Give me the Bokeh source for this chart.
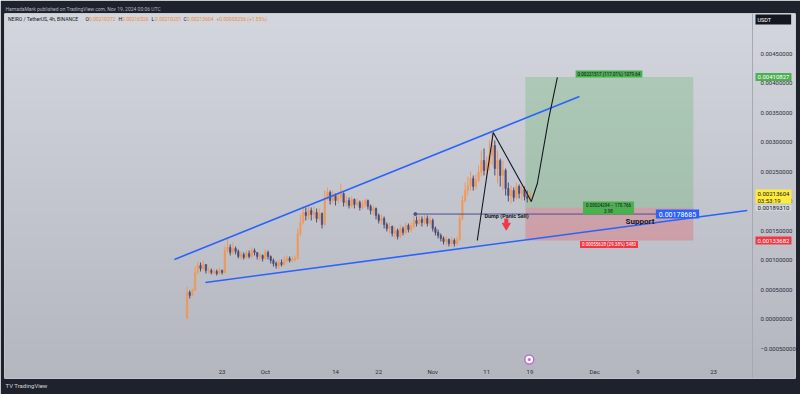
import numpy as np
import pandas as pd
from bokeh.plotting import figure
from bokeh.models import ColumnDataSource, FixedTicker, Label, Range1d, Span, Title
from bokeh.embed import file_html
from bokeh.resources import INLINE

# ---------------- data ----------------
candle_start = "2024-09-16 12:00"   # 12h candles
first_open = 0.000017
close = [0.000458, 0.000407, 0.000492, 0.000797, 0.000915, 0.000864, 0.000932, 0.000831, 0.000831, 0.000797,
         0.000814, 0.000780, 0.000831, 0.000797, 0.001169, 0.001220, 0.001136, 0.001203, 0.001153, 0.001068,
         0.001102, 0.001051, 0.001119, 0.001068, 0.001169, 0.001136, 0.001068, 0.001085, 0.001034, 0.001136,
         0.001068, 0.001000, 0.000949, 0.000915, 0.000966, 0.000932, 0.001000, 0.001034, 0.001000, 0.001017,
         0.001034, 0.001458, 0.001644, 0.001814, 0.001763, 0.001847, 0.001780, 0.001814, 0.001712, 0.001797,
         0.001610, 0.002051, 0.002153, 0.002017, 0.002102, 0.002017, 0.002068, 0.002136, 0.001983, 0.002017,
         0.001932, 0.002034, 0.001949, 0.001983, 0.001898, 0.001949, 0.002017, 0.001915, 0.001847, 0.001881,
         0.001763, 0.001678, 0.001712, 0.001610, 0.001542, 0.001576, 0.001458, 0.001508, 0.001407, 0.001542,
         0.001475, 0.001593, 0.001525, 0.001576, 0.001678, 0.001627, 0.001695, 0.001644, 0.001712, 0.001627,
         0.001678, 0.001542, 0.001475, 0.001424, 0.001373, 0.001322, 0.001356, 0.001288, 0.001339, 0.001288,
         0.001356, 0.001712, 0.002017, 0.002186, 0.002271, 0.002390, 0.002254, 0.002356, 0.002492, 0.002695,
         0.002525, 0.002644, 0.002780, 0.002949, 0.002559, 0.002695, 0.002441, 0.002525, 0.002220, 0.002102,
         0.002186, 0.002068, 0.002254, 0.002136, 0.002203, 0.002085, 0.002051, 0.002136]
high = [0.000559, 0.000492, 0.000525, 0.000898, 0.000983, 0.000966, 0.001000, 0.000915, 0.000881, 0.000864,
        0.000864, 0.000847, 0.000881, 0.000847, 0.001237, 0.001390, 0.001271, 0.001305, 0.001237, 0.001186,
        0.001153, 0.001136, 0.001169, 0.001169, 0.001220, 0.001203, 0.001136, 0.001136, 0.001102, 0.001186,
        0.001169, 0.001085, 0.001034, 0.000983, 0.001017, 0.001017, 0.001068, 0.001085, 0.001068, 0.001068,
        0.001085, 0.001542, 0.001780, 0.001915, 0.001898, 0.001932, 0.001898, 0.001915, 0.001881, 0.001881,
        0.001814, 0.002186, 0.002237, 0.002186, 0.002186, 0.002136, 0.002169, 0.002305, 0.002153, 0.002102,
        0.002068, 0.002085, 0.002051, 0.002051, 0.002017, 0.002017, 0.002051, 0.002034, 0.001949, 0.001932,
        0.001898, 0.001797, 0.001780, 0.001746, 0.001644, 0.001644, 0.001593, 0.001576, 0.001542, 0.001610,
        0.001576, 0.001644, 0.001627, 0.001644, 0.001763, 0.001746, 0.001763, 0.001746, 0.001780, 0.001763,
        0.001746, 0.001712, 0.001576, 0.001525, 0.001458, 0.001407, 0.001407, 0.001373, 0.001390, 0.001373,
        0.001407, 0.001780, 0.002102, 0.002322, 0.002424, 0.002508, 0.002441, 0.002458, 0.002610, 0.002864,
        0.002898, 0.002763, 0.003034, 0.003169, 0.003034, 0.002864, 0.002729, 0.002695, 0.002559, 0.002322,
        0.002271, 0.002237, 0.002322, 0.002288, 0.002271, 0.002254, 0.002186, 0.002186]
low = [0.000010, 0.000356, 0.000390, 0.000492, 0.000763, 0.000814, 0.000831, 0.000780, 0.000780, 0.000763,
       0.000763, 0.000746, 0.000763, 0.000763, 0.000780, 0.001136, 0.001085, 0.001102, 0.001102, 0.001034,
       0.001017, 0.001017, 0.001034, 0.001034, 0.001051, 0.001085, 0.001017, 0.001000, 0.000983, 0.001017,
       0.001017, 0.000949, 0.000898, 0.000864, 0.000864, 0.000898, 0.000915, 0.000966, 0.000966, 0.000966,
       0.000983, 0.001017, 0.001407, 0.001610, 0.001678, 0.001695, 0.001678, 0.001712, 0.001644, 0.001678,
       0.001542, 0.001593, 0.002017, 0.001949, 0.001966, 0.001932, 0.001966, 0.002000, 0.001915, 0.001915,
       0.001881, 0.001898, 0.001881, 0.001915, 0.001847, 0.001864, 0.001898, 0.001864, 0.001780, 0.001763,
       0.001695, 0.001627, 0.001610, 0.001542, 0.001492, 0.001458, 0.001407, 0.001373, 0.001356, 0.001373,
       0.001424, 0.001441, 0.001475, 0.001475, 0.001542, 0.001576, 0.001593, 0.001576, 0.001610, 0.001576,
       0.001593, 0.001492, 0.001424, 0.001373, 0.001322, 0.001271, 0.001254, 0.001237, 0.001254, 0.001237,
       0.001254, 0.001322, 0.001678, 0.001983, 0.002102, 0.002186, 0.002186, 0.002203, 0.002322, 0.002424,
       0.002441, 0.002390, 0.002525, 0.002610, 0.002441, 0.002305, 0.002254, 0.002186, 0.002102, 0.002000,
       0.001966, 0.002000, 0.002034, 0.002051, 0.002017, 0.002017, 0.001983, 0.001983]

time_tick_dates = ["2024-09-23", "2024-10-01", "2024-10-14", "2024-10-22", "2024-11-01",
                   "2024-11-11", "2024-11-19", "2024-12-01", "2024-12-09", "2024-12-23"]
time_tick_labels = ["23", "Oct", "14", "22", "Nov", "11", "19", "Dec", "9", "23"]
price_ticks = [-0.0005, 0.0, 0.0005, 0.001, 0.0015, 0.002, 0.0025, 0.003, 0.0035, 0.004, 0.0045]
price_tick_labels = ["\u22120.00050000", "0.00000000", "0.00050000", "0.00100000", "0.00150000",
                     "0.00200000", "0.00250000", "0.00300000", "0.00350000", "0.00400000", "0.00450000"]

# drawings
upper_line_t = ["2024-09-14 04:00", "2024-11-28 04:00"]
upper_line_p = [0.001017, 0.003780]
lower_line_t = ["2024-09-19 22:00", "2024-12-29 06:00"]
lower_line_p = [0.000627, 0.001847]
dump_line_t = ["2024-10-28 19:00", "2024-12-12 14:00"]
dump_level = 0.00178685
path_t = ["2024-11-09 06:00", "2024-11-12 05:00", "2024-11-18 04:00", "2024-11-19 06:00",
          "2024-11-20 09:00", "2024-11-22 10:00", "2024-11-24 02:00"]
path_p = [0.001339, 0.003169, 0.002186, 0.002000, 0.002305, 0.003373, 0.004102]
pos_t = ["2024-11-18 04:00", "2024-12-19 06:00"]
entry_price = 0.00189310
target_price = 0.00410827
stop_price = 0.00133682
arrow_t = "2024-11-14 15:00"
event_t = "2024-11-18 21:00"

# ---------------- helpers ----------------
origin = pd.Timestamp("2024-10-01")


def day(ts):
    return (pd.Timestamp(ts) - origin) / pd.Timedelta(days=1)


def days(lst):
    return [day(t) for t in lst]


times = pd.date_range(candle_start, periods=len(close), freq="12h")
x = np.asarray((times - origin) / pd.Timedelta(days=1), dtype=float)

W, H = 800, 394
FL, FR, FT, FB = 4, 795, 13, 378          # frame edges in canvas pixels
PX_PER_DAY = 5.4
PX_PER_PRICE = 59000.0
X0 = -48.3
X1 = X0 + (FR - FL) / PX_PER_DAY
Y1 = 0.005186
Y0 = Y1 - (FB - FT) / PX_PER_PRICE


def px(v):   # canvas pixel x -> data x (annotation placement)
    return X0 + (v - FL) / PX_PER_DAY


def py(v):   # canvas pixel y -> data y
    return Y1 - (v - FT) / PX_PER_PRICE


FONT = "Roboto"
DARK = "#131722"
up_color, down_color = "#f0985a", "#4f4b72"

p = figure(width=W, height=H, x_range=Range1d(X0, X1), y_range=Range1d(Y0, Y1),
           output_backend="svg", toolbar_location=None, y_axis_location="right",
           min_border_left=FL, min_border_right=W - FR, min_border_top=FT, min_border_bottom=H - FB,
           border_fill_color="#1e222d", outline_line_color=None)
p.grid.visible = False


def hexmix(c1, c2, t):
    a = [int(c1[i:i + 2], 16) for i in (1, 3, 5)]
    b = [int(c2[i:i + 2], 16) for i in (1, 3, 5)]
    return "#" + "".join("%02x" % round(a[k] + (b[k] - a[k]) * t) for k in range(3))


grad = [hexmix("#b3b6be", "#d3d6dd", k / 63) for k in range(64)]
p.image(image=[np.linspace(0, 1, 64).reshape(-1, 1)], x=X0, y=Y0, dw=X1 - X0, dh=Y1 - Y0,
        palette=grad)

# axes (labels drawn over the light panel, like TradingView's scales)
ya = p.yaxis[0]
ya.ticker = FixedTicker(ticks=price_ticks)
ya.major_label_overrides = {t: s for t, s in zip(price_ticks, price_tick_labels)}
ya.major_tick_line_color = None
ya.minor_tick_line_color = None
ya.axis_line_color = None
ya.major_label_text_font = FONT
ya.major_label_text_font_size = "6px"
ya.major_label_text_color = "#2a2e39"
ya.major_label_standoff = -41

tick_days = [int(round(day(d))) for d in time_tick_dates]
xa = p.xaxis[0]
xa.ticker = FixedTicker(ticks=tick_days)
xa.major_label_overrides = {t: s for t, s in zip(tick_days, time_tick_labels)}
xa.major_tick_line_color = None
xa.minor_tick_line_color = None
xa.axis_line_color = None
xa.major_label_text_font = FONT
xa.major_label_text_font_size = "6px"
xa.major_label_text_color = "#2a2e39"
xa.major_label_standoff = -17

# scale separator
p.add_layout(Span(location=px(752), dimension="height", line_color="#a6a9b1", line_width=1))

# header / footer
p.add_layout(Title(text="HamadaMark published on TradingView.com, Nov 19, 2024 00:06 UTC",
                   text_font=FONT, text_font_size="5px", text_color="#b2b5be",
                   text_font_style="normal", align="left", offset=1, standoff=3), "above")
p.add_layout(Title(text="TV TradingView", text_font=FONT, text_font_size="6px",
                   text_color="#d1d4dc", text_font_style="normal", align="left",
                   offset=1, standoff=3), "below")

# position box
pt = days(pos_t)
p.quad(left=[pt[0]], right=[pt[1]], bottom=[entry_price], top=[target_price],
       fill_color="#4caf50", fill_alpha=0.25, line_color=None)
p.quad(left=[pt[0]], right=[pt[1]], bottom=[stop_price], top=[entry_price],
       fill_color="#f23645", fill_alpha=0.25, line_color=None)

# candles
opens = [first_open] + close[:-1]
hi = np.maximum.reduce([np.array(high), np.array(opens), np.array(close)])
lo = np.minimum.reduce([np.array(low), np.array(opens), np.array(close)])
cols = [up_color if c >= o else down_color for o, c in zip(opens, close)]
src = ColumnDataSource(dict(x=x, high=hi, low=lo, top=np.maximum(opens, close),
                            bottom=np.minimum(opens, close), color=cols))
p.segment("x", "high", "x", "low", color="color", line_width=1, source=src)
p.vbar(x="x", width=0.28, top="top", bottom="bottom", fill_color="color", line_color="color",
       line_width=0.5, source=src)

# trend lines and drawings
p.line(days(upper_line_t), upper_line_p, color="#2962ff", line_width=1.6)
p.line(days(lower_line_t), lower_line_p, color="#2962ff", line_width=1.6)
dt = days(dump_line_t)
p.line(dt, [dump_level, dump_level], color="#4b4f95", line_width=1)
p.scatter([dt[0]], [dump_level], size=3, color="#4b4f95")
p.line(days(path_t), path_p, color=DARK, line_width=1.1)

# red arrow
ad = day(arrow_t)
p.segment([ad], [py(218)], [ad], [py(223)], color="#f23645", line_width=4)
p.scatter([ad], [py(225)], marker="inverted_triangle", size=8, color="#f23645")

# event marker
ed = day(event_t)
p.scatter([ed], [py(359)], marker="circle", size=9, fill_color="#ffffff",
          line_color="#b96fd8", line_width=1.5)
p.scatter([ed], [py(359)], marker="circle", size=3, fill_color="#b96fd8", line_color=None)


def lab(xv, yv, text, size="6px", color=DARK, bg=None, align="left", baseline="middle",
        style="normal", pad=(0, 0), lh=1.2):
    kw = dict(x=xv, y=yv, text=text, text_font=FONT, text_font_size=size, text_color=color,
              text_align=align, text_baseline=baseline, text_font_style=style,
              text_line_height=lh)
    if bg is not None:
        kw.update(background_fill_color=bg, padding=pad)
    p.add_layout(Label(**kw))


# legend line
ORANGE = "#f08a3c"
lab(px(7.5), py(18), "NEIRO / TetherUS, 4h, BINANCE", size="5px", color=DARK)
legend_parts = [("O", "0.00210372", 85), ("H", "0.00216526", 118), ("L", "0.00210251", 151),
                ("C", "0.00213604", 183)]
for k, v, xp in legend_parts:
    lab(px(xp), py(18), k, size="5px", color=DARK)
    lab(px(xp + 3.5), py(18), v, size="5px", color=ORANGE)
lab(px(216), py(18), "+0.00003256 (+1.55%)", size="5px", color=ORANGE)

# chart annotations
lab(px(506), py(215.5), "Dump (Panic Sell)", size="5.5px", color=DARK, align="center", style="bold")
lab(px(639.5), py(221), "Support", size="8px", color=DARK, align="center", style="bold")
lab(px(677), dump_level, "0.00178685", size="7px", color="#ffffff", bg="#2962ff",
    align="center", pad=(3, 2))
lab(px(608.5), py(73.5), "0.00221517 (117.01%) 1079.64", size="4.5px", color=DARK,
    bg="#4caf50", align="center", pad=(2, 1))
lab(px(608), py(207.5), "0.00024294 \u2212 170.766\n3.98", size="4.5px", color=DARK,
    bg="#4caf50", align="center", pad=(3, 1))
lab(px(608.5), py(244), "0.00055628 (29.38%) 5480", size="4.5px", color="#ffffff",
    bg="#f23645", align="center", pad=(2, 1))

# price-scale labels
AX = px(755)
lab(AX, py(19), "USDT", size="5.5px", color="#ffffff", bg="#131722", pad=(2, 20, 2, 2))
lab(AX, target_price, "0.00410827", size="6px", color="#ffffff", bg="#4caf50", pad=(2, 2))
lab(AX, entry_price, "0.00189310", size="6px", color=DARK, bg="#d5d8de", pad=(2, 1))
lab(AX, py(189), "0.00213604\n03:53:19", size="6px", color=DARK, bg="#ffeb3b",
    baseline="top", pad=(2, 0), lh=1.0)
lab(AX, stop_price, "0.00133682", size="6px", color="#ffffff", bg="#f23645", pad=(2, 2))

open("out.html", "w").write(file_html(p, INLINE))
